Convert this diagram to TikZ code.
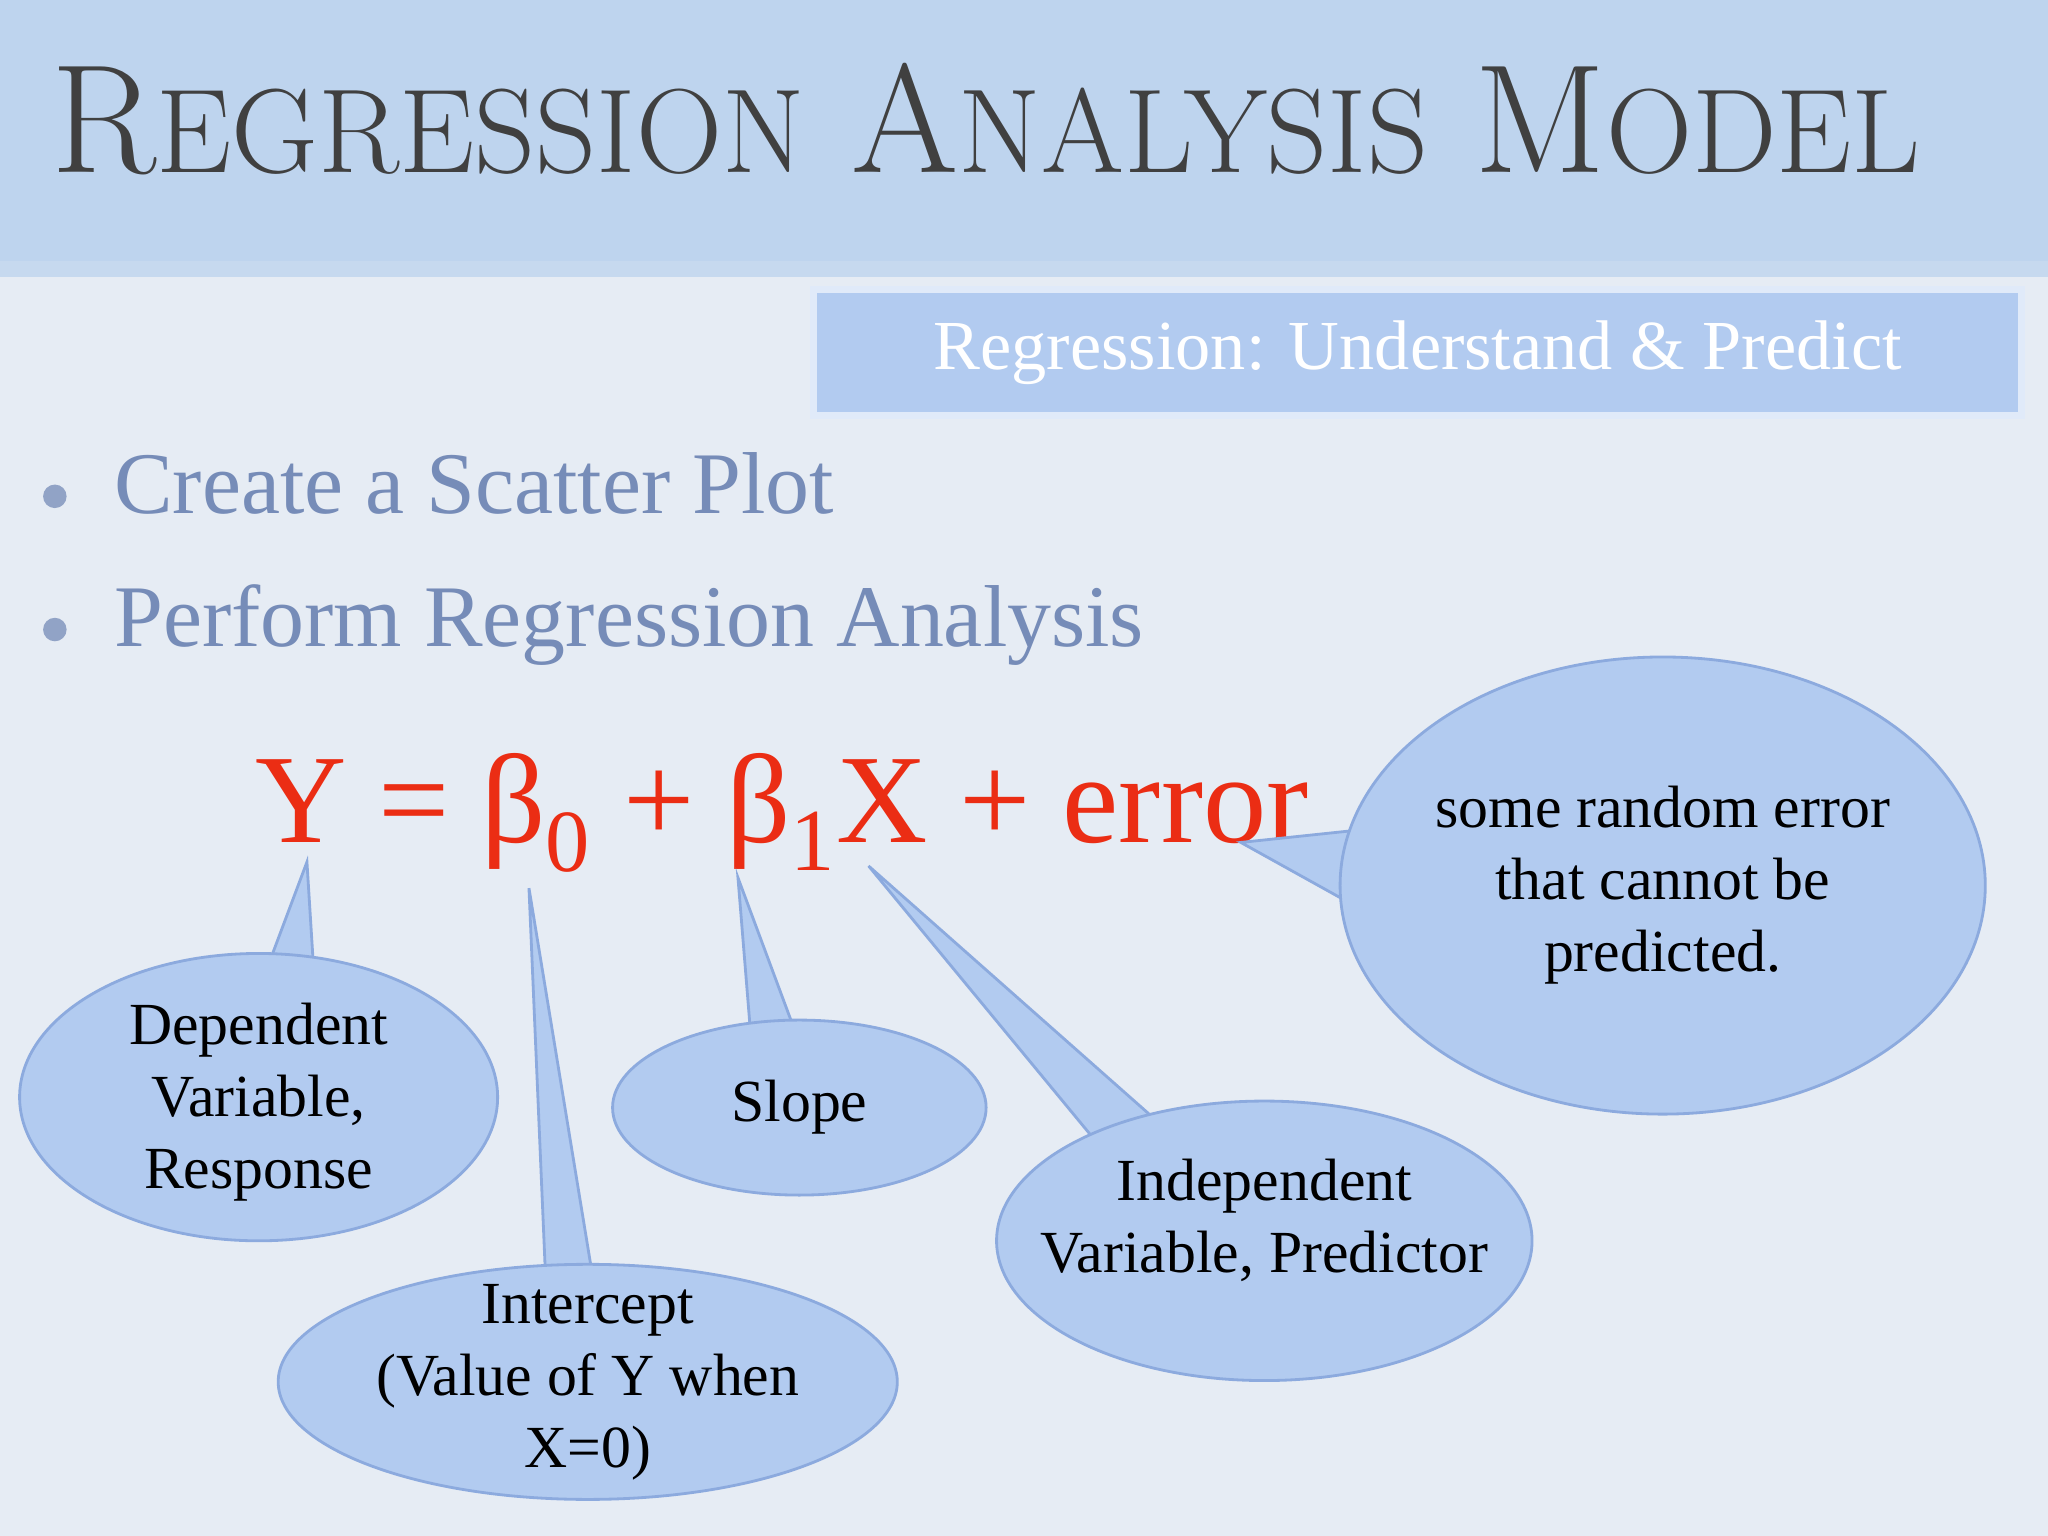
\documentclass[tikz,border=0pt]{standalone}
\usepackage{fontspec}
\usetikzlibrary{shapes.geometric}
\setmainfont{Liberation Serif}
\newfontfamily\titlefont{Latin Modern Roman}
\newcommand{\smc}[1]{{\fontsize{34}{34}\selectfont #1}}
\begin{document}
\begin{tikzpicture}[x=0.013061cm,y=-0.013061cm]
\definecolor{bg}{RGB}{230,236,244}
\definecolor{band}{RGB}{190,212,238}
\definecolor{bubble}{RGB}{178,203,240}
\definecolor{bubbleline}{RGB}{140,170,222}
\definecolor{bullettxt}{RGB}{118,140,184}
\definecolor{eqred}{RGB}{235,45,20}
\tikzset{bub/.style={fill=bubble,draw=bubbleline,line width=0.8pt},
 btxt/.style={font=\fontsize{17}{20.5}\selectfont,align=center,text=black,inner sep=0pt}}
\useasboundingbox (0,0) rectangle (1568,1176);
\fill[bg] (0,0) rectangle (1568,1176);
\fill[band] (0,0) rectangle (1568,200);
\fill[band!80!bg] (0,200) rectangle (1568,212);
\node[anchor=base west,text=black!75,font=\titlefont\fontsize{44}{44}\selectfont] (title) at (30,132) {R\smc{EGRESSION} A\smc{NALYSIS} M\smc{ODEL}};
\node[draw=white!60!bubble,line width=2pt,fill=bubble,minimum width=925*0.013061cm,minimum height=96*0.013061cm,text=white,font=\fontsize{20}{22}\selectfont] (box) at (1085.5,270) {Regression: Understand \& Predict};
\fill[bullettxt!80] (42,380) circle (9);
\fill[bullettxt!80] (42,482) circle (9);
\node[anchor=base west,text=bullettxt,font=\fontsize{25}{25}\selectfont] (b1) at (78,393) {Create a Scatter Plot};
\node[anchor=base west,text=bullettxt,font=\fontsize{25}{25}\selectfont] (b2) at (78,495) {Perform Regression Analysis};
\node[anchor=base west,text=eqred,font=\fontsize{36}{36}\selectfont,inner sep=0pt] (eq) at (195,645) {Y = β\textsubscript{0} + β\textsubscript{1}X + error};
% tails
\fill[bub] (235,660) -- (205,740) -- (240,740) -- cycle;
\fill[bub] (405,680) -- (418,985) -- (455,985) -- cycle;
\fill[bub] (565,672) -- (575,795) -- (610,793) -- cycle;
\fill[bub] (665,663) -- (840,875) -- (890,862) -- cycle;
\fill[bub] (950,645) -- (1045,635) -- (1040,695) -- cycle;
% bubbles
\fill[bub] (198,840) ellipse (183 and 110);
\fill[bub] (450,1058) ellipse (237 and 90);
\fill[bub] (612,848) ellipse (143 and 67);
\fill[bub] (968,950) ellipse (205 and 107);
\fill[bub] (1273,678) ellipse (247 and 175);
\node[btxt] (dep) at (198,844) {Dependent\\Variable,\\Response};
\node[btxt] (int) at (450,1058) {Intercept\\(Value of Y when\\X=0)};
\node[btxt] (slope) at (612,848) {Slope};
\node[btxt] (ind) at (968,934) {Independent\\Variable, Predictor};
\node[btxt] (err) at (1273,678) {some random error\\that cannot be\\predicted.};
\end{tikzpicture}
\end{document}
